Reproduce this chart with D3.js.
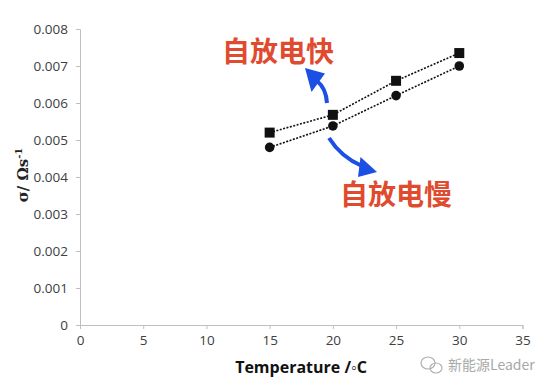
<!DOCTYPE html>
<html><head><meta charset="utf-8">
<script src="https://cdn.jsdelivr.net/npm/d3@7"></script>
<style>body{margin:0;background:#fff;}svg{display:block;}</style>
</head><body>
<svg id="c" width="550" height="389"></svg>
<script>
const temps = [15, 20, 25, 30];
const fastSeries = [0.0052, 0.00568, 0.0066, 0.00735];   // squares
const slowSeries = [0.0048, 0.00538, 0.0062, 0.0070];    // circles
const xTicks = [0, 5, 10, 15, 20, 25, 30, 35];
const yTicks = [0, 0.001, 0.002, 0.003, 0.004, 0.005, 0.006, 0.007, 0.008];
const yTickLabels = ["0", "0.001", "0.002", "0.003", "0.004", "0.005", "0.006", "0.007", "0.008"];

const svg = d3.select("#c");
const x = d3.scaleLinear().domain([0, 35]).range([80, 522.5]);
const y = d3.scaleLinear().domain([0, 0.008]).range([325, 29]);
const font = "'Open Sans', sans-serif";

const xAxis = svg.append("g").attr("transform", `translate(0,${y(0)})`)
  .call(d3.axisBottom(x).tickValues(xTicks).tickSize(4).tickPadding(6).tickFormat(d3.format("d")));
const yAxis = svg.append("g").attr("transform", `translate(${x(0)},0)`)
  .call(d3.axisLeft(y).tickValues(yTicks).tickSize(4).tickPadding(8).tickFormat((d, i) => yTickLabels[i]));
[xAxis, yAxis].forEach(a => {
  a.select(".domain").attr("stroke", "#bfbfbf").attr("stroke-width", 1);
  a.selectAll(".tick line").attr("stroke", "#bfbfbf");
  a.selectAll(".tick text").attr("fill", "#404040").style("font-family", font).style("font-size", "13.5px");
});

// axis titles
svg.append("text").attr("x", 301).attr("y", 373).attr("text-anchor", "middle")
  .style("font-family", font).style("font-weight", "bold").style("font-size", "16px").attr("fill", "#111")
  .text("Temperature /\u25E6C");
const yl = svg.append("text").attr("transform", "translate(28,175) rotate(-90)").attr("text-anchor", "middle")
  .style("font-family", "'DejaVu Serif', serif").style("font-weight", "bold").style("font-size", "15px").attr("fill", "#222");
yl.append("tspan").text("\u03C3/ \u03A9s");
yl.append("tspan").attr("dy", -6).style("font-size", "10px").text("-1");

// series lines
const line = d3.line().x((d, i) => x(temps[i])).y(d => y(d));
[fastSeries, slowSeries].forEach(s => {
  svg.append("path").datum(s).attr("d", line).attr("fill", "none")
    .attr("stroke", "#111").attr("stroke-width", 1.6).attr("stroke-dasharray", "2,1.5");
});
svg.selectAll("rect.pt").data(fastSeries).join("rect").attr("class", "pt")
  .attr("x", (d, i) => x(temps[i]) - 5).attr("y", d => y(d) - 5).attr("width", 10).attr("height", 10).attr("fill", "#111");
svg.selectAll("circle.pt").data(slowSeries).join("circle").attr("class", "pt")
  .attr("cx", (d, i) => x(temps[i])).attr("cy", d => y(d)).attr("r", 4.8).attr("fill", "#111");

// annotations
const red = "#e04a2f", blue = "#1c4fe4";
const cjk = "'Noto Sans CJK SC', sans-serif";
svg.append("text").attr("x", 222).attr("y", 62).style("font-family", cjk).style("font-weight", "bold")
  .style("font-size", "28px").attr("fill", red).text("自放电快");
svg.append("text").attr("x", 340).attr("y", 205).style("font-family", cjk).style("font-weight", "bold")
  .style("font-size", "28px").attr("fill", red).text("自放电慢");

svg.append("path").attr("d", "M327,103 Q326,88 317,81").attr("fill", "none").attr("stroke", blue)
  .attr("stroke-width", 4);
svg.append("path").attr("d", "M305,68 L325,73.5 L311.5,92 Z").attr("fill", blue);
svg.append("path").attr("d", "M329,138 Q341,157 362,166").attr("fill", "none").attr("stroke", blue)
  .attr("stroke-width", 4);
svg.append("path").attr("d", "M377,172 L360.5,157 L358,177 Z").attr("fill", blue);

// watermark
const wm = svg.append("g").attr("fill", "none").attr("stroke", "#b0b0b0").attr("stroke-width", 1.2);
wm.append("ellipse").attr("cx", 428).attr("cy", 363).attr("rx", 7).attr("ry", 6);
wm.append("ellipse").attr("cx", 436).attr("cy", 368).attr("rx", 6).attr("ry", 5);
svg.append("text").attr("x", 448).attr("y", 370).style("font-family", cjk).style("font-size", "14px")
  .attr("fill", "#a8a8a8").text("新能源Leader");
</script>
</body></html>
